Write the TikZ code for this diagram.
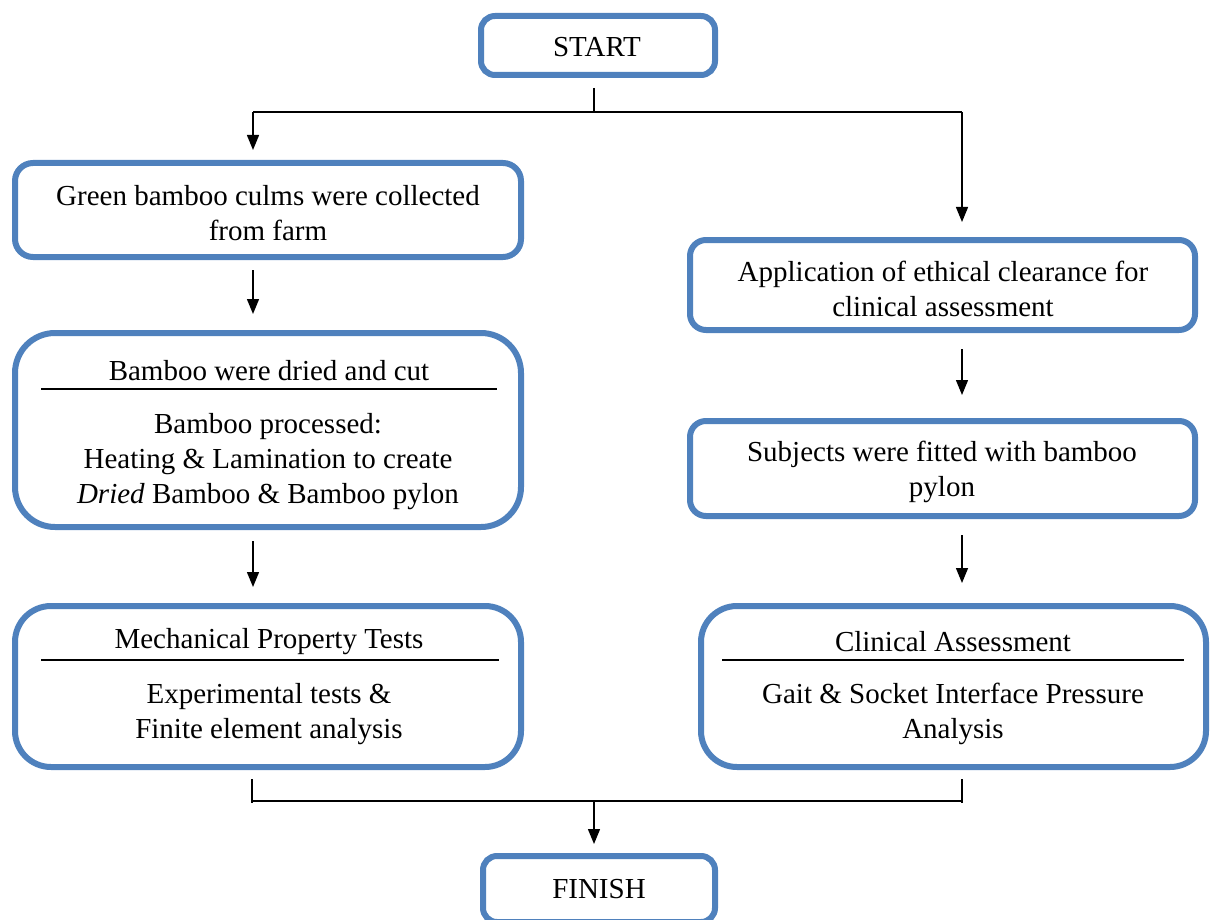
\documentclass[tikz,border=0pt]{standalone}
\usepackage{fontspec}
\setmainfont{Liberation Serif}
\usetikzlibrary{arrows.meta}
\definecolor{boxblue}{HTML}{4F81BD}
\tikzset{
  flowbox/.style={draw=boxblue, line width=6pt, rounded corners=#1, fill=white,
    align=center, inner sep=0pt, outer sep=0pt},
  flowbox/.default=14pt,
  txt/.style={align=center, inner sep=0pt, font=\fontsize{29}{35}\selectfont},
  conn/.style={line width=1.4pt, draw=black},
  arr/.style={conn, -{Triangle[length=15pt,width=12pt]}},
  sep/.style={line width=1.6pt, draw=black}
}
\begin{document}
\begin{tikzpicture}[x=1pt,y=-1pt]
\useasboundingbox (0,0) rectangle (1212,920);
\clip (0,0) rectangle (1212,920);
% boxes
\node[flowbox=14pt, minimum width=234pt, minimum height=59pt] (start) at (598,45.5) {};
\node[txt] (starttxt) at (597,47) {START};
\node[flowbox=18pt, minimum width=506pt, minimum height=94pt] (b1) at (268,210) {};
\node[txt] (b1txt) at (268,213) {Green bamboo culms were collected\\from farm};
\node[flowbox=40pt, minimum width=506pt, minimum height=194pt] (b2) at (268,430) {};
\node[txt] (b2title) at (269,371) {Bamboo were dried and cut};
\node[txt] (b2body) at (268,462) {Bamboo processed:\\Heating \& Lamination to create\\\textit{Dried} Bamboo \& Bamboo pylon};
\coordinate (b2l) at (41,389); \coordinate (b2r) at (497,389);
\draw[sep] (b2l) -- (b2r);
\node[flowbox=36pt, minimum width=506pt, minimum height=161pt] (b3) at (268,686.5) {};
\node[txt] (b3title) at (269,642) {Mechanical Property Tests};
\node[txt] (b3body) at (269,714) {Experimental tests \&\\Finite element analysis};
\coordinate (b3l) at (41,660); \coordinate (b3r) at (499,660);
\draw[sep] (b3l) -- (b3r);
\node[flowbox=16pt, minimum width=505pt, minimum height=90pt] (b4) at (942.5,285) {};
\node[txt] (b4txt) at (943,289) {Application of ethical clearance for\\clinical assessment};
\node[flowbox=16pt, minimum width=505pt, minimum height=95pt] (b5) at (942.5,468.5) {};
\node[txt] (b5txt) at (942,472) {Subjects were fitted with bamboo\\pylon};
\node[flowbox=36pt, minimum width=505pt, minimum height=161pt] (b6) at (953.5,686.5) {};
\node[txt] (b6title) at (953,642) {Clinical Assessment};
\node[txt] (b6body) at (953,714) {Gait \& Socket Interface Pressure\\Analysis};
\coordinate (b6l) at (722,660); \coordinate (b6r) at (1184,660);
\draw[sep] (b6l) -- (b6r);
\node[flowbox=14pt, minimum width=232pt, minimum height=66pt] (fin) at (599,889) {};
\node[txt] (fintxt) at (599,889) {FINISH};
% connectors
\coordinate (jtop) at (594,112);
\coordinate (jl) at (253,112);
\coordinate (jr) at (962,112);
\draw[conn] (594,88) coordinate (st0) -- (jtop);
\draw[conn] (jl) -- (jr);
\draw[arr] (jl) -- (253,150) coordinate (b1in);
\draw[arr] (jr) -- (962,222) coordinate (b4in);
\coordinate (a1s) at (253,270); \coordinate (a1e) at (253,314);
\draw[arr] (a1s) -- (a1e);
\coordinate (a2s) at (253,541); \coordinate (a2e) at (253,587);
\draw[arr] (a2s) -- (a2e);
\coordinate (a3s) at (962,349); \coordinate (a3e) at (962,395);
\draw[arr] (a3s) -- (a3e);
\coordinate (a4s) at (962,535); \coordinate (a4e) at (962,583);
\draw[arr] (a4s) -- (a4e);
\coordinate (bl0) at (252,779); \coordinate (bl1) at (252,803);
\coordinate (br0) at (962,779); \coordinate (br1) at (962,803);
\draw[conn] (bl0) -- (bl1);
\draw[conn] (br0) -- (br1);
\coordinate (jbl) at (252,801); \coordinate (jbr) at (962,801);
\draw[conn] (jbl) -- (jbr);
\coordinate (jbot) at (594,801);
\draw[arr] (jbot) -- (594,844) coordinate (finin);
\end{tikzpicture}
\end{document}
